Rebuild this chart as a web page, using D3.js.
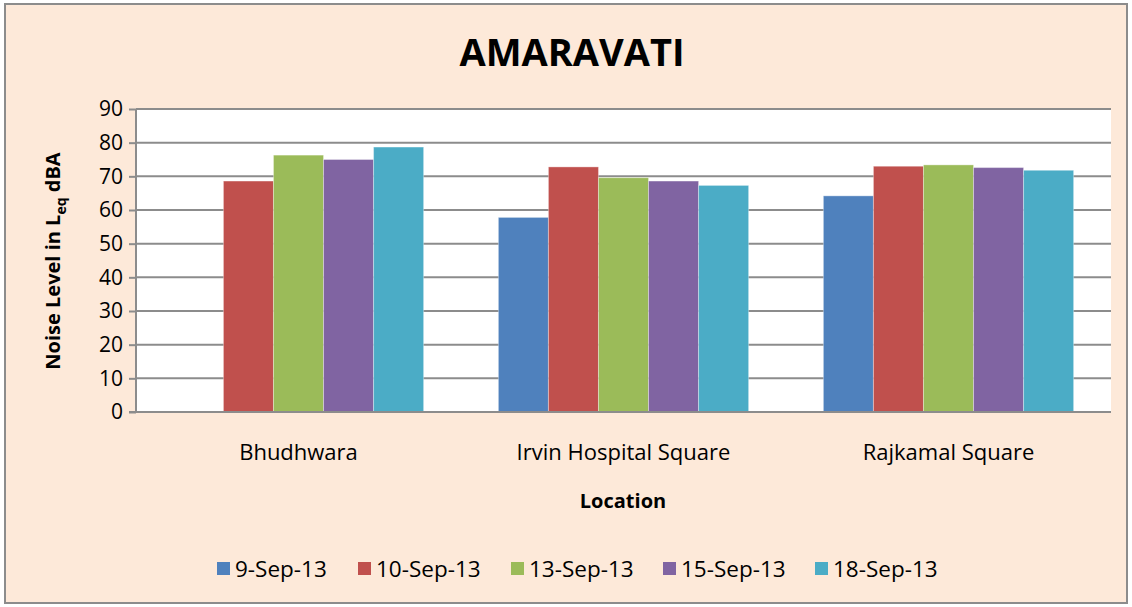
<!DOCTYPE html>
<html>
<head>
<meta charset="utf-8">
<script src="https://cdn.jsdelivr.net/npm/d3@7"></script>
<style>
  body { margin: 0; background: #fff; }
  svg { display: block; font-family: "Open Sans", Lato, sans-serif; }
</style>
</head>
<body>
<svg id="chart" width="1132" height="607"></svg>
<script>
// chart values
var locations = ['Bhudhwara', 'Irvin Hospital Square', 'Rajkamal Square']
var dates = ['9-Sep-13', '10-Sep-13', '13-Sep-13', '15-Sep-13', '18-Sep-13']
var colors = ['#4F81BD', '#C0504D', '#9BBB59', '#8064A2', '#4BACC6']
var sep9 = [null, 57.8, 64.2]
var sep10 = [68.6, 72.8, 73.0]
var sep13 = [76.3, 69.6, 73.4]
var sep15 = [75.0, 68.6, 72.6]
var sep18 = [78.7, 67.3, 71.8]
var series = [sep9, sep10, sep13, sep15, sep18]
var yTicks = [0, 10, 20, 30, 40, 50, 60, 70, 80, 90]

var svg = d3.select('#chart')
var W = 1132, H = 607
var plot = {left: 136, right: 1111, top: 109, bottom: 412}

// outer box
svg.append('rect').attr('x', 5).attr('y', 4).attr('width', W - 10).attr('height', H - 8)
	.attr('fill', '#FDE9D9').attr('stroke', '#8C8C8C').attr('stroke-width', 2)

svg.append('rect').attr('x', plot.left).attr('y', plot.top)
	.attr('width', plot.right - plot.left).attr('height', plot.bottom - plot.top)
	.attr('fill', '#fff')

var x0 = d3.scaleBand().domain(locations).range([plot.left, plot.right]).paddingInner(0.23).paddingOuter(0.115)
var x1 = d3.scaleBand().domain(dates).range([0, x0.bandwidth()])
var y = d3.scaleLinear().domain([0, 90]).range([plot.bottom, plot.top])

// grid
svg.append('g').selectAll('line').data(yTicks.slice(1)).join('line')
	.attr('x1', plot.left).attr('x2', plot.right)
	.attr('y1', d => y(d)).attr('y2', d => y(d))
	.attr('stroke', '#8C8C8C').attr('stroke-width', 2)

// bars
series.forEach(function (vals, si) {
	svg.append('g').selectAll('rect').data(vals.map((v, i) => ({loc: locations[i], v: v})).filter(d => d.v != null))
		.join('rect')
		.attr('x', d => x0(d.loc) + x1(dates[si]))
		.attr('width', x1.bandwidth())
		.attr('y', d => y(d.v))
		.attr('height', d => plot.bottom - y(d.v))
		.attr('fill', colors[si])
		.attr('stroke', 'rgba(255,255,255,0.35)').attr('stroke-width', 1)
})

// y axis
var yAxis = svg.append('g').attr('transform', 'translate(' + plot.left + ',0)')
	.call(d3.axisLeft(y).tickValues(yTicks).tickSize(7).tickPadding(6))
yAxis.select('.domain').attr('stroke', '#8C8C8C').attr('stroke-width', 2).attr('d', 'M0,' + plot.top + 'V' + plot.bottom)
yAxis.selectAll('.tick line').attr('stroke', '#8C8C8C').attr('stroke-width', 2)
yAxis.selectAll('.tick text').attr('font-size', 21).attr('fill', '#000').style('font-family', '"Open Sans", sans-serif')

// x axis baseline
svg.append('line').attr('x1', plot.left - 7).attr('x2', plot.right)
	.attr('y1', plot.bottom).attr('y2', plot.bottom)
	.attr('stroke', '#8C8C8C').attr('stroke-width', 2)

svg.append('g').selectAll('text').data(locations).join('text')
	.attr('x', d => x0(d) + x0.bandwidth() / 2).attr('y', 460)
	.attr('text-anchor', 'middle').attr('font-size', 22).text(d => d)

// titles
svg.append('text').attr('x', 572).attr('y', 66).attr('text-anchor', 'middle')
	.attr('font-size', 38).attr('font-weight', 'bold').text('AMARAVATI')

svg.append('text').attr('x', 623).attr('y', 508).attr('text-anchor', 'middle')
	.attr('font-size', 20).attr('font-weight', 'bold').text('Location')

var yt = svg.append('text').attr('transform', 'translate(60,261) rotate(-90)')
	.attr('text-anchor', 'middle').attr('font-size', 20).attr('font-weight', 'bold')
yt.append('tspan').text('Noise Level in L')
yt.append('tspan').attr('font-size', 14).attr('dy', 6).text('eq')
yt.append('tspan').attr('dy', -6).text(' dBA')

// legend
var legX = [217, 358, 511, 663, 815]
var leg = svg.append('g').selectAll('g').data(dates).join('g')
	.attr('transform', (d, i) => 'translate(' + legX[i] + ',562)')
leg.append('rect').attr('width', 13).attr('height', 13).attr('fill', (d, i) => colors[i])
leg.append('text').attr('x', 18).attr('y', 15).attr('font-size', 22.5).text(d => d)
</script>
</body>
</html>
